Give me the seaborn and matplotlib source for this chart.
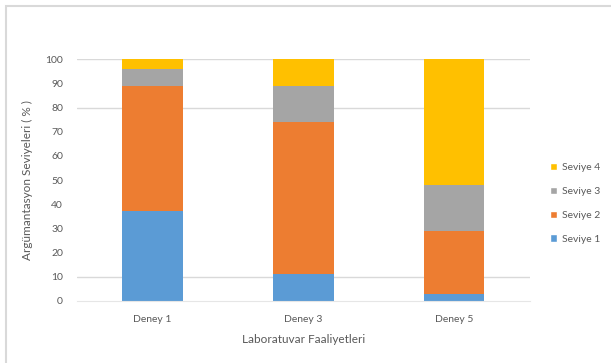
import seaborn as sns
import matplotlib.pyplot as plt
import pandas as pd
from matplotlib.patches import Rectangle, Patch

# Data (percent per level)
deneyler = ['Deney 1', 'Deney 3', 'Deney 5']
seviye_1 = [37, 11, 3]
seviye_2 = [52, 63, 26]
seviye_3 = [7, 15, 19]
seviye_4 = [4, 11, 52]

levels = ['Seviye 1', 'Seviye 2', 'Seviye 3', 'Seviye 4']
colors = ['#5B9BD5', '#ED7D31', '#A5A5A5', '#FFC000']

df = pd.DataFrame({'Deney': deneyler, 'Seviye 1': seviye_1, 'Seviye 2': seviye_2,
                   'Seviye 3': seviye_3, 'Seviye 4': seviye_4})
cum = df[levels].cumsum(axis=1)

sns.set_style('white')
plt.rcParams['font.family'] = ['Lato', 'DejaVu Sans']
text_col = '#595959'

fig = plt.figure(figsize=(6.11, 3.63), dpi=100)
ax = fig.add_axes([0.126, 0.171, 0.741, 0.666])

# Outer chart frame (only top/left visible in reference)
fig.patches.append(Rectangle((6 / 611, -0.2), 2, 1.2 - 6 / 363, transform=fig.transFigure,
                             fill=False, edgecolor='#d9d9d9', lw=1.5, zorder=0))

# Gridlines
for g in [10, 80, 100]:
    ax.axhline(g, color='#d9d9d9', lw=1, zorder=0)

# Stacked bars: draw cumulative totals from top level down
for lvl, col in reversed(list(zip(levels, colors))):
    sns.barplot(x=df['Deney'], y=cum[lvl], color=col, width=0.4, ax=ax,
                saturation=1, linewidth=0, zorder=2)

ax.set_ylim(0, 100)
ax.set_xlim(-0.5, 2.5)
ax.set_yticks(range(0, 101, 10))
for s in ['top', 'right', 'left']:
    ax.spines[s].set_visible(False)
ax.spines['bottom'].set_color('#e6e6e6')
ax.spines['bottom'].set_linewidth(0.8)
ax.tick_params(axis='y', length=0, labelsize=7.5, labelcolor=text_col, pad=10)
ax.tick_params(axis='x', length=0, labelsize=7.5, labelcolor=text_col, pad=10)

ax.set_xlabel('Laboratuvar Faaliyetleri', fontsize=8.5, color=text_col, labelpad=7)
ax.set_ylabel('Argümantasyon Seviyeleri ( % )', fontsize=8.5, color=text_col, labelpad=9)

handles = [Patch(facecolor=c, label=l) for l, c in zip(levels, colors)][::-1]
fig.legend(handles=handles, loc='center left', bbox_to_anchor=(0.885, 0.44),
           frameon=False, fontsize=7.5, labelcolor=text_col, handlelength=0.7,
           handleheight=0.7, handletextpad=0.4, labelspacing=1.4)

fig.savefig('out.png', dpi=100)
